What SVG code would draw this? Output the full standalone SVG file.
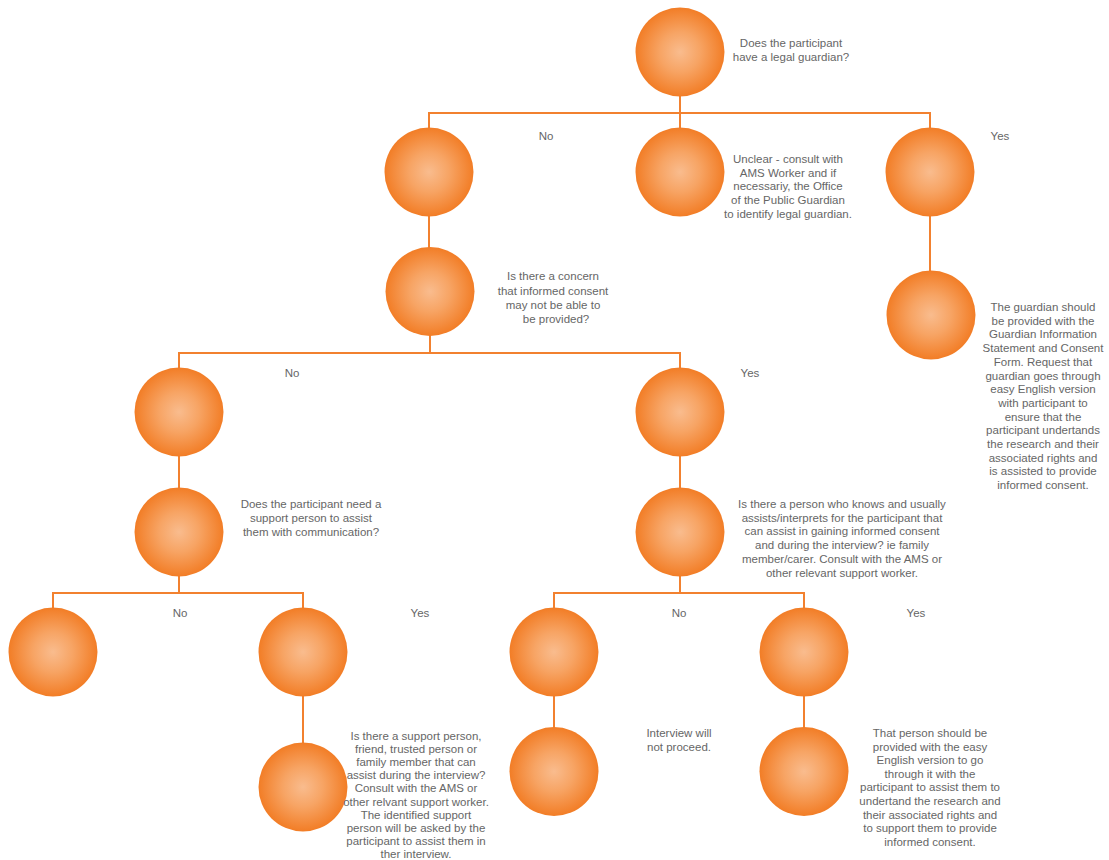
<svg xmlns="http://www.w3.org/2000/svg" width="1109" height="860" viewBox="0 0 1109 860">
<defs>
<radialGradient id="ball" cx="50%" cy="50%" r="50%">
<stop offset="0" stop-color="#F9BC8E"/>
<stop offset="0.45" stop-color="#F7A464"/>
<stop offset="1" stop-color="#F27D26"/>
</radialGradient>
<style>
.n{fill:url(#ball);}
.t{font-family:"Liberation Sans",Arial,sans-serif;font-size:11.5px;fill:#666666;text-anchor:middle;}
.c line{stroke:#F2812F;stroke-width:2;}
</style>
</defs>
<rect width="1109" height="860" fill="#ffffff"/>
<g id="connectors" class="c">
<line x1="680" y1="96" x2="680" y2="113"/>
<line x1="428" y1="113" x2="931" y2="113"/>
<line x1="429" y1="112" x2="429" y2="129"/>
<line x1="680" y1="112" x2="680" y2="129"/>
<line x1="930" y1="112" x2="930" y2="129"/>
<line x1="930" y1="215" x2="930" y2="272"/>
<line x1="429" y1="215" x2="429" y2="248"/>
<line x1="430" y1="335" x2="430" y2="353"/>
<line x1="178" y1="353" x2="681" y2="353"/>
<line x1="179" y1="352" x2="179" y2="369"/>
<line x1="680" y1="352" x2="680" y2="369"/>
<line x1="179" y1="455" x2="179" y2="489"/>
<line x1="680" y1="455" x2="680" y2="489"/>
<line x1="179" y1="575" x2="179" y2="593"/>
<line x1="52" y1="593" x2="304" y2="593"/>
<line x1="53" y1="592" x2="53" y2="609"/>
<line x1="303" y1="592" x2="303" y2="609"/>
<line x1="680" y1="575" x2="680" y2="593"/>
<line x1="553" y1="593" x2="805" y2="593"/>
<line x1="554" y1="592" x2="554" y2="609"/>
<line x1="804" y1="592" x2="804" y2="609"/>
<line x1="303" y1="695" x2="303" y2="744"/>
<line x1="554" y1="695" x2="554" y2="728"/>
<line x1="804" y1="695" x2="804" y2="728"/>
</g>
<g id="q-guardian">
<circle class="n" cx="680" cy="52" r="44.5"/>
<text class="t" x="791" y="47">Does the participant</text>
<text class="t" x="791" y="60.7">have a legal guardian?</text>
</g>
<g id="no-guardian">
<circle class="n" cx="429" cy="172" r="44.5"/>
<text class="t" x="546" y="140">No</text>
</g>
<g id="unclear">
<circle class="n" cx="680" cy="172" r="44.5"/>
<text class="t" x="788" y="163">Unclear - consult with</text>
<text class="t" x="788" y="176.7">AMS Worker and if</text>
<text class="t" x="788" y="190.4">necessariy, the Office</text>
<text class="t" x="788" y="204.1">of the Public Guardian</text>
<text class="t" x="788" y="217.8">to identify legal guardian.</text>
</g>
<g id="yes-guardian">
<circle class="n" cx="930" cy="172" r="44.5"/>
<text class="t" x="1000" y="140">Yes</text>
</g>
<g id="guardian-info">
<circle class="n" cx="931" cy="315" r="44.5"/>
<text class="t" x="1043" y="311">The guardian should</text>
<text class="t" x="1043" y="324.7">be provided with the</text>
<text class="t" x="1043" y="338.4">Guardian Information</text>
<text class="t" x="1043" y="352.1">Statement and Consent</text>
<text class="t" x="1043" y="365.8">Form. Request that</text>
<text class="t" x="1043" y="379.5">guardian goes through</text>
<text class="t" x="1043" y="393.2">easy English version</text>
<text class="t" x="1043" y="406.9">with participant to</text>
<text class="t" x="1043" y="420.6">ensure that the</text>
<text class="t" x="1043" y="434.3">participant undertands</text>
<text class="t" x="1043" y="448">the research and their</text>
<text class="t" x="1043" y="461.7">associated rights and</text>
<text class="t" x="1043" y="475.4">is assisted to provide</text>
<text class="t" x="1043" y="489.1">informed consent.</text>
</g>
<g id="q-concern">
<circle class="n" cx="430" cy="291.5" r="44.5"/>
<text class="t" x="553" y="280">Is there a concern</text>
<text class="t" x="553" y="294.5">that informed consent</text>
<text class="t" x="553" y="309">may not be able to</text>
<text class="t" x="556" y="322.5">be provided?</text>
</g>
<g id="no-concern">
<circle class="n" cx="179" cy="412" r="44.5"/>
<text class="t" x="292" y="377">No</text>
</g>
<g id="yes-concern">
<circle class="n" cx="680" cy="412" r="44.5"/>
<text class="t" x="750" y="377">Yes</text>
</g>
<g id="q-support">
<circle class="n" cx="179" cy="532" r="44.5"/>
<text class="t" x="311" y="508">Does the participant need a</text>
<text class="t" x="311" y="522">support person to assist</text>
<text class="t" x="311" y="536">them with communication?</text>
</g>
<g id="q-person">
<circle class="n" cx="680" cy="532" r="44.5"/>
<text class="t" x="842" y="508">Is there a person who knows and usually</text>
<text class="t" x="842" y="521.7">assists/interprets for the participant that</text>
<text class="t" x="842" y="535.4">can assist in gaining informed consent</text>
<text class="t" x="842" y="549.1">and during the interview? ie family</text>
<text class="t" x="842" y="562.8">member/carer. Consult with the AMS or</text>
<text class="t" x="842" y="576.5">other relevant support worker.</text>
</g>
<g id="no-support">
<circle class="n" cx="53" cy="652" r="44.5"/>
<text class="t" x="180" y="617">No</text>
</g>
<g id="yes-support">
<circle class="n" cx="303" cy="652" r="44.5"/>
<text class="t" x="420" y="617">Yes</text>
</g>
<g id="no-person">
<circle class="n" cx="554" cy="652" r="44.5"/>
<text class="t" x="679" y="617">No</text>
</g>
<g id="yes-person">
<circle class="n" cx="804" cy="652" r="44.5"/>
<text class="t" x="916" y="617">Yes</text>
</g>
<g id="support-person">
<circle class="n" cx="303" cy="787" r="44.5"/>
<text class="t" x="416" y="739.5">Is there a support person,</text>
<text class="t" x="416" y="752.7">friend, trusted person or</text>
<text class="t" x="416" y="765.9">family member that can</text>
<text class="t" x="416" y="779.1">assist during the interview?</text>
<text class="t" x="416" y="792.3">Consult with the AMS or</text>
<text class="t" x="416" y="805.5">other relvant support worker.</text>
<text class="t" x="416" y="818.7">The identified support</text>
<text class="t" x="416" y="831.9">person will be asked by the</text>
<text class="t" x="416" y="845.1">participant to assist them in</text>
<text class="t" x="416" y="858.3">ther interview.</text>
</g>
<g id="no-interview">
<circle class="n" cx="554" cy="771.5" r="44.5"/>
<text class="t" x="679" y="737">Interview will</text>
<text class="t" x="679" y="750.5">not proceed.</text>
</g>
<g id="person-provided">
<circle class="n" cx="804" cy="771.5" r="44.5"/>
<text class="t" x="930" y="737">That person should be</text>
<text class="t" x="930" y="750.6">provided with the easy</text>
<text class="t" x="930" y="764.2">English version to go</text>
<text class="t" x="930" y="777.8">through it with the</text>
<text class="t" x="930" y="791.4">participant to assist them to</text>
<text class="t" x="930" y="805">undertand the research and</text>
<text class="t" x="930" y="818.6">their associated rights and</text>
<text class="t" x="930" y="832.2">to support them to provide</text>
<text class="t" x="930" y="845.8">informed consent.</text>
</g>
</svg>
